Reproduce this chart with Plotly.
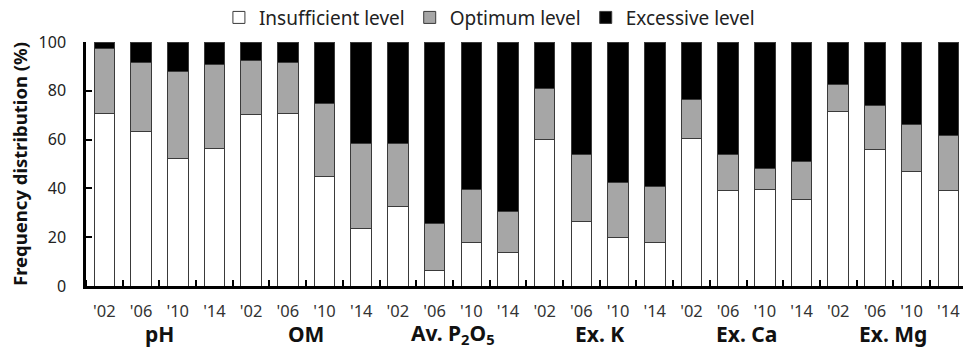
import plotly.graph_objects as go

groups = ["pH", "OM", "Av. P<sub>2</sub>O<sub>5</sub>", "Ex. K", "Ex. Ca", "Ex. Mg"]
years = ["'02", "'06", "'10", "'14"]

# cumulative tops
insufficient = [70.8, 63.4, 52.3, 56.4,
                70.2, 70.8, 44.8, 23.6,
                32.7, 6.3, 17.8, 13.8,
                59.9, 26.6, 20.0, 17.8,
                60.3, 39.2, 39.7, 35.6,
                71.4, 55.8, 47.1, 39.2]
optimum_top = [97.3, 91.5, 88.0, 90.8,
               92.5, 91.4, 74.7, 58.5,
               58.5, 25.8, 39.5, 30.4,
               81.0, 54.0, 42.5, 40.6,
               76.5, 53.8, 48.1, 51.0,
               82.7, 74.0, 66.0, 61.5]

optimum = [round(t - b, 1) for t, b in zip(optimum_top, insufficient)]
excessive = [round(100 - t, 1) for t in optimum_top]

n = len(insufficient)
xs = list(range(n))
ticktext = [years[i % 4] for i in range(n)]

fig = go.Figure()
line = dict(color="#3a3a3a", width=1)
fig.add_bar(x=xs, y=insufficient, name="Insufficient level",
            marker=dict(color="white", line=line))
fig.add_bar(x=xs, y=optimum, name="Optimum level",
            marker=dict(color="#a6a6a6", line=line))
fig.add_bar(x=xs, y=excessive, name="Excessive level",
            marker=dict(color="black", line=line))

for gi, g in enumerate(groups):
    fig.add_annotation(x=gi * 4 + 1.5, y=-0.197, xref="x", yref="paper",
                       text="<b>" + g + "</b>", showarrow=False,
                       yanchor="middle", xanchor="center",
                       font=dict(size=21, color="#111", family="Noto Sans"))

fig.update_layout(
    barmode="stack",
    bargap=0.44,
    width=963, height=350,
    margin=dict(l=86, r=0, t=42, b=64, autoexpand=False),
    plot_bgcolor="white", paper_bgcolor="white",
    font=dict(family="Noto Sans", color="#222"),
    legend=dict(orientation="h", x=0.46, xanchor="center", y=1.178,
                yanchor="top", font=dict(size=19, color="#222"),
                traceorder="normal"),
    showlegend=True,
)
fig.update_xaxes(range=[-0.5, 23.4], tickvals=xs, ticktext=ticktext,
                 showline=True, linecolor="black", linewidth=2.5,
                 ticks="", ticklabelstandoff=8, automargin=False,
                 tickfont=dict(size=16.5, color="#333"),
                 minor=dict(tick0=0.5, dtick=1, ticks="inside", ticklen=6,
                            tickwidth=2, tickcolor="black"),
                 showgrid=False, zeroline=False)
fig.update_yaxes(range=[0, 100], tickvals=[0, 20, 40, 60, 80, 100],
                 showline=True, linecolor="black", linewidth=2.5,
                 ticks="inside", ticklen=6, tickwidth=2, tickcolor="black",
                 tickfont=dict(size=16, color="#222"),
                 tickprefix="<b>", ticksuffix="</b>",
                 ticklabelstandoff=14, automargin=False,
                 title=dict(text="<b>Frequency distribution (%)</b>",
                            font=dict(size=18.5, color="#111"), standoff=7),
                 showgrid=False, zeroline=False)

fig.write_html("out.html", config={"displayModeBar": False},
               post_script="document.body.style.margin='0';")
